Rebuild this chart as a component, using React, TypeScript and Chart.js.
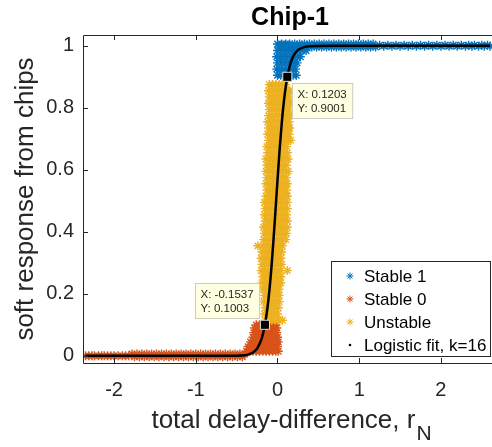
import React, { useEffect, useRef } from "react";
import { Chart, registerables } from "chart.js";

Chart.register(...registerables);

const FONT = '"Liberation Sans", Arial, Helvetica, sans-serif';
const TEXT = "#262626";

const titleText = "Chip-1";
const xLabelMain = "total delay-difference, r";
const xLabelSub = "N";
const yLabel = "soft response from chips";

const xTicks = [-2, -1, 0, 1, 2];
const yTicks = [0, 0.2, 0.4, 0.6, 0.8, 1];
const xLimits = [-2.38, 2.625];
const yLimits = [-0.023, 1.035];

const seriesLabels = ["Stable 1", "Stable 0", "Unstable", "Logistic fit, k=16"];
const seriesColors = ["#0072BD", "#D95319", "#EDB120", "#000000"];

// Stable 1 (blue): rows of y with x values
const stable1RowY = [0.905, 0.925, 0.945, 0.965, 0.985, 1.006, 0.996, 1.002, 0.999];
const stable1RowX = [
  [0.0, 0.04, 0.09, 0.14, 0.19, 0.23],
  [-0.01, 0.03, 0.08, 0.13, 0.18, 0.22],
  [0.0, 0.05, 0.1, 0.15, 0.2, 0.24],
  [-0.01, 0.04, 0.09, 0.14, 0.19, 0.24, 0.28],
  [0.0, 0.05, 0.1, 0.15, 0.2, 0.25, 0.3, 0.35],
  [0.0, 0.05, 0.1, 0.15, 0.21, 0.27, 0.33, 0.39, 0.45, 0.51, 0.57, 0.63, 0.69, 0.75, 0.81, 0.87, 0.93, 0.99, 1.05, 1.11, 1.17],
  [0.02, 0.07, 0.12, 0.18, 0.24, 0.3, 0.36, 0.42, 0.48, 0.54, 0.6, 0.66, 0.72, 0.78, 0.84, 0.9, 0.96, 1.02, 1.08, 1.14, 1.2],
  [1.25, 1.35, 1.45, 1.55, 1.65, 1.75, 1.85, 1.95, 2.05, 2.15, 2.25, 2.34, 2.41, 2.5, 2.57],
  [1.3, 1.4, 1.5, 1.6, 1.7, 1.8, 1.9, 2.0, 2.1, 2.2, 2.3, 2.38, 2.46, 2.53, 2.6],
];

// Stable 0 (orange)
const stable0RowY = [0.0, 0.006, -0.003, 0.015, 0.03, 0.045, 0.06, 0.075, 0.09, 0.1];
const stable0RowX = [
  [-2.35, -2.31, -2.27, -2.24, -2.19, -2.15, -2.12, -2.08, -2.04, -2.0, -1.95, -1.9, -1.86, -1.82],
  [-1.78, -1.72, -1.66, -1.6, -1.54, -1.48, -1.42, -1.36, -1.3, -1.24, -1.18, -1.12, -1.06, -1.0, -0.94, -0.88, -0.82, -0.76, -0.7, -0.64, -0.58, -0.52, -0.46, -0.4],
  [-1.75, -1.69, -1.63, -1.57, -1.51, -1.45, -1.39, -1.33, -1.27, -1.21, -1.15, -1.09, -1.03, -0.97, -0.91, -0.85, -0.79, -0.73, -0.67, -0.61, -0.55, -0.49, -0.43],
  [-0.38, -0.34, -0.3, -0.26, -0.22, -0.18, -0.14, -0.1, -0.06, -0.02, 0.01],
  [-0.36, -0.32, -0.28, -0.24, -0.2, -0.16, -0.12, -0.08, -0.04, 0.0],
  [-0.33, -0.29, -0.25, -0.21, -0.17, -0.13, -0.09, -0.05, -0.01, 0.01],
  [-0.3, -0.26, -0.22, -0.18, -0.14, -0.1, -0.06, -0.02, 0.0],
  [-0.29, -0.25, -0.21, -0.17, -0.13, -0.09, -0.05, -0.01],
  [-0.28, -0.24, -0.2, -0.16, -0.12, -0.08, -0.04, -0.01],
  [-0.26, -0.22, -0.18, -0.14, -0.1, -0.06, -0.02],
];

// Unstable (yellow)
const unstableRowY = [
  0.115, 0.135, 0.155, 0.175, 0.195, 0.215, 0.235, 0.255, 0.275, 0.295,
  0.315, 0.335, 0.355, 0.375, 0.395, 0.415, 0.435, 0.455, 0.475, 0.495,
  0.515, 0.535, 0.555, 0.575, 0.595, 0.615, 0.635, 0.655, 0.675, 0.695,
  0.715, 0.735, 0.755, 0.775, 0.795, 0.815, 0.835, 0.855, 0.875,
];
const unstableRowX = [
  [-0.15, -0.11, -0.07, -0.03, 0.01, 0.06],
  [-0.16, -0.12, -0.08, -0.04, 0.0],
  [-0.15, -0.11, -0.07, -0.03, 0.01],
  [-0.17, -0.13, -0.09, -0.05, -0.01, 0.02],
  [-0.16, -0.12, -0.08, -0.04, 0.0, 0.02],
  [-0.18, -0.14, -0.1, -0.06, -0.02, 0.02],
  [-0.19, -0.15, -0.11, -0.07, -0.03, 0.01, 0.04],
  [-0.18, -0.14, -0.1, -0.06, -0.02, 0.02, 0.04],
  [-0.2, -0.16, -0.12, -0.08, -0.04, 0.0, 0.04, 0.12],
  [-0.19, -0.15, -0.11, -0.07, -0.03, 0.01, 0.05],
  [-0.2, -0.16, -0.12, -0.08, -0.04, 0.0, 0.04],
  [-0.19, -0.15, -0.11, -0.07, -0.03, 0.01, 0.05],
  [-0.24, -0.18, -0.14, -0.1, -0.06, -0.02, 0.02, 0.06],
  [-0.17, -0.13, -0.09, -0.05, -0.01, 0.03, 0.07, 0.1],
  [-0.16, -0.12, -0.08, -0.04, 0.0, 0.04, 0.08, 0.11],
  [-0.17, -0.13, -0.09, -0.05, -0.01, 0.03, 0.07, 0.12],
  [-0.15, -0.11, -0.07, -0.03, 0.01, 0.05, 0.09, 0.12],
  [-0.16, -0.12, -0.08, -0.04, 0.0, 0.04, 0.08, 0.11],
  [-0.15, -0.11, -0.07, -0.03, 0.01, 0.05, 0.09, 0.12],
  [-0.16, -0.12, -0.08, -0.04, 0.0, 0.04, 0.08, 0.12],
  [-0.14, -0.1, -0.06, -0.02, 0.02, 0.06, 0.1, 0.12],
  [-0.13, -0.09, -0.05, -0.01, 0.03, 0.07, 0.11],
  [-0.14, -0.1, -0.06, -0.02, 0.02, 0.06, 0.1, 0.12],
  [-0.13, -0.09, -0.05, -0.01, 0.03, 0.07, 0.11],
  [-0.14, -0.1, -0.06, -0.02, 0.02, 0.06, 0.1, 0.13],
  [-0.13, -0.09, -0.05, -0.01, 0.03, 0.07, 0.11],
  [-0.14, -0.1, -0.06, -0.02, 0.02, 0.06, 0.1, 0.13],
  [-0.12, -0.08, -0.04, 0.0, 0.04, 0.08, 0.12],
  [-0.13, -0.09, -0.05, -0.01, 0.03, 0.07, 0.11],
  [-0.11, -0.07, -0.03, 0.01, 0.05, 0.09, 0.13, 0.16],
  [-0.12, -0.08, -0.04, 0.0, 0.04, 0.08, 0.12, 0.14],
  [-0.11, -0.07, -0.03, 0.01, 0.05, 0.09, 0.13, 0.15],
  [-0.12, -0.08, -0.04, 0.0, 0.04, 0.08, 0.12, 0.14],
  [-0.11, -0.07, -0.03, 0.01, 0.05, 0.09, 0.13, 0.15],
  [-0.1, -0.06, -0.02, 0.02, 0.06, 0.1, 0.14],
  [-0.11, -0.07, -0.03, 0.01, 0.05, 0.09, 0.13, 0.15],
  [-0.1, -0.06, -0.02, 0.02, 0.06, 0.1, 0.14],
  [-0.11, -0.07, -0.03, 0.01, 0.05, 0.09, 0.13, 0.15],
  [-0.1, -0.06, -0.02, 0.02, 0.06, 0.1],
];

// Logistic fit (black line)
const fitX = [-2.35, -1.5, -1.0, -0.6, -0.5, -0.4, -0.35, -0.3, -0.25, -0.2, -0.175, -0.15, -0.125, -0.1, -0.075, -0.05, -0.025, 0.0, 0.025, 0.05, 0.075, 0.1, 0.125, 0.15, 0.175, 0.2, 0.25, 0.3, 0.4, 0.5, 0.7, 1.5, 2.6];
const fitY = [0.0, 0.0, 0.0, 0.0001, 0.0004, 0.0022, 0.0048, 0.0106, 0.0234, 0.0506, 0.0736, 0.106, 0.15, 0.208, 0.282, 0.37, 0.467, 0.566, 0.661, 0.744, 0.813, 0.866, 0.906, 0.935, 0.9555, 0.97, 0.986, 0.9937, 0.9987, 0.9997, 1.0, 1.0, 1.0];

// Data tips
const tipX = [-0.1537, 0.1203];
const tipY = [0.1003, 0.9001];

const rowsToPoints = (ys: number[], xs: number[][]) =>
  ys.flatMap((yv, i) => xs[i].map((xv) => ({ x: xv, y: yv })));

function drawStar(ctx: CanvasRenderingContext2D, x: number, y: number, r: number) {
  ctx.beginPath();
  ctx.moveTo(x - r, y); ctx.lineTo(x + r, y);
  ctx.moveTo(x, y - r); ctx.lineTo(x, y + r);
  const d = r * Math.SQRT1_2;
  ctx.moveTo(x - d, y - d); ctx.lineTo(x + d, y + d);
  ctx.moveTo(x - d, y + d); ctx.lineTo(x + d, y - d);
  ctx.stroke();
}

const decorPlugin = {
  id: "decor",
  afterDatasetsDraw(chart: any) {
    const { ctx, chartArea: a, scales } = chart;
    const xs = scales.x;
    const ys = scales.y;
    ctx.save();
    // box
    ctx.strokeStyle = TEXT;
    ctx.lineWidth = 1;
    ctx.beginPath();
    ctx.moveTo(a.left + 0.5, a.bottom + 0.5);
    ctx.lineTo(a.left + 0.5, a.top + 0.5);
    ctx.lineTo(a.right + 0.5, a.top + 0.5);
    ctx.moveTo(a.left + 0.5, a.bottom + 0.5);
    ctx.lineTo(a.right + 0.5, a.bottom + 0.5);
    ctx.stroke();
    // inward ticks
    ctx.beginPath();
    xTicks.forEach((v) => {
      const px = Math.round(xs.getPixelForValue(v)) + 0.5;
      ctx.moveTo(px, a.bottom); ctx.lineTo(px, a.bottom - 5);
      ctx.moveTo(px, a.top); ctx.lineTo(px, a.top + 5);
    });
    yTicks.forEach((v) => {
      const py = Math.round(ys.getPixelForValue(v)) + 0.5;
      ctx.moveTo(a.left, py); ctx.lineTo(a.left + 5, py);
    });
    ctx.stroke();

    // data tips
    ctx.font = `11.5px ${FONT}`;
    ctx.textBaseline = "middle";
    ctx.textAlign = "left";
    tipX.forEach((tx, i) => {
      const px = xs.getPixelForValue(tx);
      const py = ys.getPixelForValue(tipY[i]);
      const l1 = `X: ${tx.toFixed(4)}`;
      const l2 = `Y: ${tipY[i].toFixed(4)}`;
      const w = Math.max(ctx.measureText(l1).width, ctx.measureText(l2).width) + 11;
      const h = 35;
      let bx: number, by: number;
      if (i === 1) { bx = px + 5; by = py + 6; } else { bx = px - 6 - w; by = py - 7 - h; }
      bx = Math.round(bx) + 0.5; by = Math.round(by) + 0.5;
      ctx.fillStyle = "rgb(255,255,225)";
      ctx.fillRect(bx, by, w, h);
      ctx.strokeStyle = "rgb(205,205,190)";
      ctx.strokeRect(bx, by, w, h);
      ctx.fillStyle = TEXT;
      ctx.fillText(l1, bx + 5, by + 11);
      ctx.fillText(l2, bx + 5, by + 25);
    });

    // legend
    const lx = 331.5, ly = 261.5, lw = 159, lh = 95;
    ctx.fillStyle = "#ffffff";
    ctx.fillRect(lx, ly, lw, lh);
    ctx.strokeStyle = TEXT;
    ctx.strokeRect(lx, ly, lw, lh);
    ctx.font = `17px ${FONT}`;
    ctx.textBaseline = "middle";
    seriesLabels.forEach((lab, i) => {
      const cy = 276 + i * 23;
      if (i < 3) {
        ctx.strokeStyle = seriesColors[i];
        ctx.lineWidth = 1;
        drawStar(ctx, 350, cy, 3.5);
      } else {
        ctx.fillStyle = "#000";
        ctx.beginPath();
        ctx.arc(350, cy, 1.3, 0, Math.PI * 2);
        ctx.fill();
      }
      ctx.fillStyle = "#000";
      ctx.fillText(lab, 364, cy + 1);
    });

    // title
    ctx.fillStyle = "#000";
    ctx.font = `bold 25px ${FONT}`;
    ctx.textAlign = "center";
    ctx.textBaseline = "alphabetic";
    ctx.fillText(titleText, 290, 25);

    // y label
    ctx.fillStyle = TEXT;
    ctx.font = `26px ${FONT}`;
    ctx.save();
    ctx.translate(33, (a.top + a.bottom) / 2);
    ctx.rotate(-Math.PI / 2);
    ctx.textAlign = "center";
    ctx.fillText(yLabel, 0, 0);
    ctx.restore();

    // x label with subscript
    ctx.font = `26px ${FONT}`;
    const wMain = ctx.measureText(xLabelMain).width;
    ctx.font = `21px ${FONT}`;
    const wSub = ctx.measureText(xLabelSub).width;
    const startX = 291 - (wMain + wSub) / 2;
    ctx.textAlign = "left";
    ctx.font = `26px ${FONT}`;
    ctx.fillText(xLabelMain, startX, 428);
    ctx.font = `21px ${FONT}`;
    ctx.fillText(xLabelSub, startX + wMain + 1, 440);
    ctx.restore();
  },
};

const fmtTick = (v: any) => String(Math.round(Number(v) * 10) / 10);

export default function App() {
  const ref = useRef<HTMLCanvasElement | null>(null);
  useEffect(() => {
    document.body.style.margin = "0";
    const canvas = ref.current!;
    const starCommon = {
      type: "scatter" as const,
      pointStyle: "star",
      pointRadius: 4.5,
      pointBorderWidth: 1.4,
      showLine: false,
    };
    const chart = new Chart(canvas, {
      type: "scatter",
      data: {
        datasets: [
          {
            ...starCommon,
            label: seriesLabels[0],
            data: rowsToPoints(stable1RowY, stable1RowX),
            borderColor: seriesColors[0],
            backgroundColor: seriesColors[0],
            order: 3,
          },
          {
            ...starCommon,
            label: seriesLabels[1],
            data: rowsToPoints(stable0RowY, stable0RowX),
            borderColor: seriesColors[1],
            backgroundColor: seriesColors[1],
            order: 2,
          },
          {
            ...starCommon,
            label: seriesLabels[2],
            data: rowsToPoints(unstableRowY, unstableRowX),
            borderColor: seriesColors[2],
            backgroundColor: seriesColors[2],
            order: 1,
          },
          {
            type: "line" as const,
            label: seriesLabels[3],
            data: fitX.map((xv, i) => ({ x: xv, y: fitY[i] })),
            borderColor: "#000",
            backgroundColor: "#000",
            borderWidth: 2.5,
            pointRadius: 0,
            showLine: true,
            cubicInterpolationMode: "monotone",
            order: 0,
          } as any,
          {
            type: "scatter" as const,
            label: "tips",
            data: tipX.map((xv, i) => ({ x: xv, y: tipY[i] })),
            pointStyle: "rect",
            pointRadius: 6.4,
            pointBackgroundColor: "#000",
            pointBorderColor: "#dddddd",
            pointBorderWidth: 1,
            showLine: false,
            order: -1,
          } as any,
        ],
      },
      options: {
        animation: false,
        responsive: false,
        devicePixelRatio: 1,
        layout: { autoPadding: false, padding: { top: 35, left: 0, right: 0, bottom: 0 } },
        plugins: { legend: { display: false }, tooltip: { enabled: false }, title: { display: false } },
        scales: {
          x: {
            type: "linear",
            min: xLimits[0],
            max: xLimits[1],
            afterBuildTicks: (s: any) => { s.ticks = xTicks.map((v) => ({ value: v })); },
            afterFit: (s: any) => { s.height = 84; s.paddingLeft = 0; s.paddingRight = 0; },
            grid: { display: false, drawTicks: false },
            border: { display: false },
            ticks: { color: TEXT, font: { family: FONT, size: 20 }, padding: 15, maxRotation: 0, autoSkip: false, callback: fmtTick },
          },
          y: {
            type: "linear",
            min: yLimits[0],
            max: yLimits[1],
            afterBuildTicks: (s: any) => { s.ticks = yTicks.map((v) => ({ value: v })); },
            afterFit: (s: any) => { s.width = 83; s.paddingTop = 0; s.paddingBottom = 0; },
            grid: { display: false, drawTicks: false },
            border: { display: false },
            ticks: { color: TEXT, font: { family: FONT, size: 20 }, padding: 9, autoSkip: false, callback: fmtTick },
          },
        },
      } as any,
      plugins: [decorPlugin],
    });
    return () => chart.destroy();
  }, []);
  return (
    <div style={{ position: "fixed", left: 0, top: 0, width: 492, height: 447, background: "#fff" }}>
      <canvas ref={ref} width={492} height={447} style={{ display: "block" }} />
    </div>
  );
}
